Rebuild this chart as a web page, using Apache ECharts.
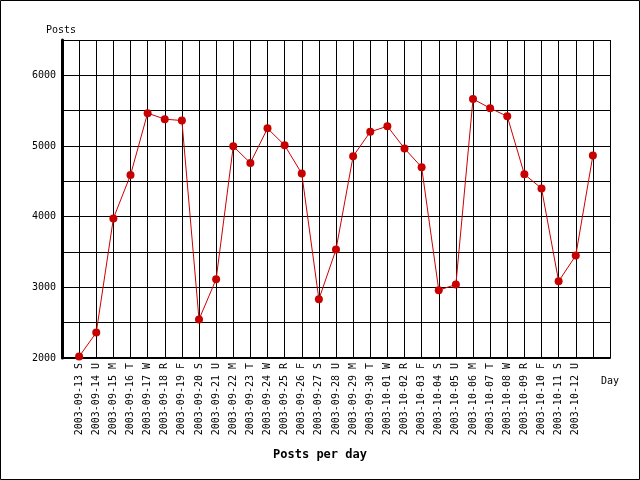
<!DOCTYPE html>
<html>
<head>
<meta charset="utf-8">
<script src="https://cdn.jsdelivr.net/npm/echarts@6/dist/echarts.min.js"></script>
<style>
  html, body { margin: 0; padding: 0; background: #fff; }
  #chart { width: 640px; height: 480px; }
</style>
</head>
<body>
<div id="chart"></div>
<script>
// one empty slot at each end so the points sit one step in from the plot edges
const dayLabels = [
  '',
  '2003-09-13 S', '2003-09-14 U', '2003-09-15 M', '2003-09-16 T', '2003-09-17 W',
  '2003-09-18 R', '2003-09-19 F', '2003-09-20 S', '2003-09-21 U', '2003-09-22 M',
  '2003-09-23 T', '2003-09-24 W', '2003-09-25 R', '2003-09-26 F', '2003-09-27 S',
  '2003-09-28 U', '2003-09-29 M', '2003-09-30 T', '2003-10-01 W', '2003-10-02 R',
  '2003-10-03 F', '2003-10-04 S', '2003-10-05 U', '2003-10-06 M', '2003-10-07 T',
  '2003-10-08 W', '2003-10-09 R', '2003-10-10 F', '2003-10-11 S', '2003-10-12 U',
  '', ''
]

const posts = [
  null,
  2020, 2360, 3975, 4590, 5465, 5380, 5360, 2545, 3115, 4995,
  4760, 5250, 5010, 4610, 2830, 3535, 4855, 5200, 5280, 4965,
  4700, 2960, 3040, 5665, 5535, 5420, 4600, 4400, 3085, 3450,
  4865,
  null
]

const yTicks = { min: 2000, max: 6500, step: 500 }

const font = '"DejaVu Sans Mono", monospace'

const chart = echarts.init(document.getElementById('chart'))

chart.setOption({
  animation: false,
  backgroundColor: '#fff',
  title: {
    text: 'Posts per day',
    left: 'center',
    top: 444,
    textStyle: { fontFamily: font, fontSize: 12, fontWeight: 'bold', color: '#000' }
  },
  graphic: [
    {
      type: 'rect',
      shape: { x: 0.5, y: 0.5, width: 639, height: 479 },
      style: { fill: 'none', stroke: '#000', lineWidth: 1 },
      silent: true
    },
    {
      type: 'text',
      left: 601,
      top: 376,
      style: { text: 'Day', fontFamily: font, fontSize: 10, fill: '#000' }
    }
  ],
  grid: {
    left: 62,
    right: 30,
    top: 40,
    bottom: 122,
    outerBoundsMode: 'none'
  },
  xAxis: {
    type: 'category',
    data: dayLabels,
    boundaryGap: false,
    axisLine: { lineStyle: { color: '#000', width: 2 } },
    axisTick: { show: false },
    axisLabel: {
      interval: 0,
      rotate: 90,
      margin: 5,
      color: '#000',
      fontFamily: font,
      fontSize: 10
    },
    splitLine: { show: true, interval: 0, lineStyle: { color: '#000', width: 1 } }
  },
  yAxis: {
    type: 'value',
    min: yTicks.min,
    max: yTicks.max,
    interval: yTicks.step,
    name: 'Posts',
    nameLocation: 'end',
    nameGap: 5,
    nameTextStyle: { fontFamily: font, fontSize: 10, color: '#000', align: 'center', padding: [0, 2, 0, 0] },
    axisLine: { show: true, lineStyle: { color: '#000', width: 3 } },
    axisTick: { show: false },
    axisLabel: {
      margin: 6,
      color: '#000',
      fontFamily: font,
      fontSize: 10,
      formatter: v => (v % 1000 === 0 ? String(v) : '')
    },
    splitLine: { show: true, lineStyle: { color: '#000', width: 1 } }
  },
  series: [
    {
      name: 'Posts',
      type: 'line',
      data: posts,
      connectNulls: false,
      symbol: 'circle',
      symbolSize: 8,
      showAllSymbol: true,
      lineStyle: { color: '#cc0000', width: 1 },
      itemStyle: { color: '#c80000', borderWidth: 0 },
      emphasis: { disabled: true }
    }
  ]
})
</script>
</body>
</html>
